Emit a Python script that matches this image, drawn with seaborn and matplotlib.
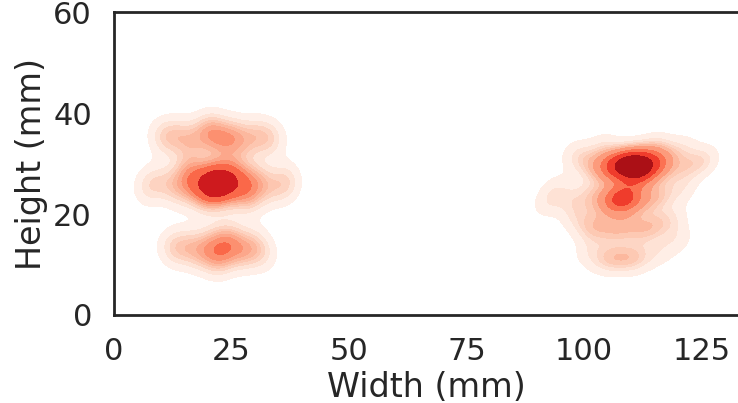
import numpy as np
import pandas as pd
import matplotlib
matplotlib.use("Agg")
import matplotlib.pyplot as plt
from matplotlib.colors import ListedColormap
import seaborn as sns

# ---- data ----
left_x = [12, 14, 15.5, 17, 18, 19, 20, 21, 22, 23, 24, 25, 26, 27, 28, 29.5, 31, 33, 9, 36, 22, 23, 21, 20, 25, 7, 37, 16, 29,
          12, 14, 16, 18, 20, 22, 23.5, 25, 26, 28, 30, 32, 34, 10, 21,
          14, 16, 18, 19.5, 21, 22.5, 24, 25.5, 27, 28.5, 30, 32, 12, 22, 24]
left_y = [26, 24.5, 27.5, 25, 27, 24, 28, 26, 25, 27, 24.5, 27.5, 26, 24, 27.5, 25.5, 27, 25, 26.5, 25.5, 26, 26, 26.5, 23.5, 28.5, 25, 27, 29, 23,
          35, 36, 34, 35, 36.5, 35, 34, 36, 35, 34, 36, 35, 35, 35.5, 37,
          13, 14, 12, 13, 14.5, 12, 13, 14.5, 12, 13, 14, 12, 13.5, 10.5, 15.5]

right_x = [102, 104, 105, 106, 107, 108, 109, 110, 110, 111, 111, 112, 113, 114, 115, 116, 118, 109, 111, 113, 107, 112, 117, 100,
           103, 105, 106, 107, 108, 109, 110, 111, 113, 115, 101, 97, 117, 108,
           100, 102, 104, 106, 108, 110, 112, 114, 116, 119, 98,
           104, 106, 108, 110, 112, 116, 101,
           92, 94, 121, 124, 126, 121, 98, 104, 115, 121, 120]
right_y = [29.5, 29, 30, 28.5, 29.5, 29, 30, 29, 28.5, 29.5, 30, 29, 28.5, 29.5, 29, 30, 29.5, 31, 31.5, 31, 31, 27.5, 32, 30.5,
           23, 22.5, 23.5, 23, 22.5, 23, 23.5, 23, 22.5, 23.5, 24, 23, 24, 23,
           18, 17, 18, 16.5, 17.5, 18, 16.5, 17.5, 18, 19, 20,
           11, 11.5, 11, 11.5, 11, 12.5, 12.5,
           22, 25, 29, 30, 31, 33, 32, 33.5, 33.5, 25, 15]

x_label = "Width (mm)"
y_label = "Height (mm)"

left = pd.DataFrame({"w": left_x, "h": left_y})
right = pd.DataFrame({"w": right_x, "h": right_y})

sns.set_theme(style="white", context="poster")
plt.rcParams["font.family"] = ["DejaVu Sans"]

fig = plt.figure(figsize=(7.38, 4.03), dpi=100)
ax = fig.add_axes([113.5 / 738, 88 / 403, 626 / 738, 302.5 / 403])

reds = sns.color_palette("Reds", as_cmap=True)
left_cmap = ListedColormap(reds(np.linspace(0, 0.88, 256)))

sns.kdeplot(data=right, x="w", y="h", fill=True, cmap=reds, bw_adjust=0.68, ax=ax)
sns.kdeplot(data=left, x="w", y="h", fill=True, cmap=left_cmap, bw_adjust=0.65, ax=ax)

ax.set_xlim(0, 133)
ax.set_ylim(0, 60)
ax.set_xticks([0, 25, 50, 75, 100, 125])
ax.set_yticks([0, 20, 40, 60])
ax.set_xlabel(x_label)
ax.set_ylabel(y_label)
for s in ax.spines.values():
    s.set_linewidth(2)
    s.set_color("#262626")
ax.spines["right"].set_visible(False)

fig.savefig("out.png", dpi=100)
